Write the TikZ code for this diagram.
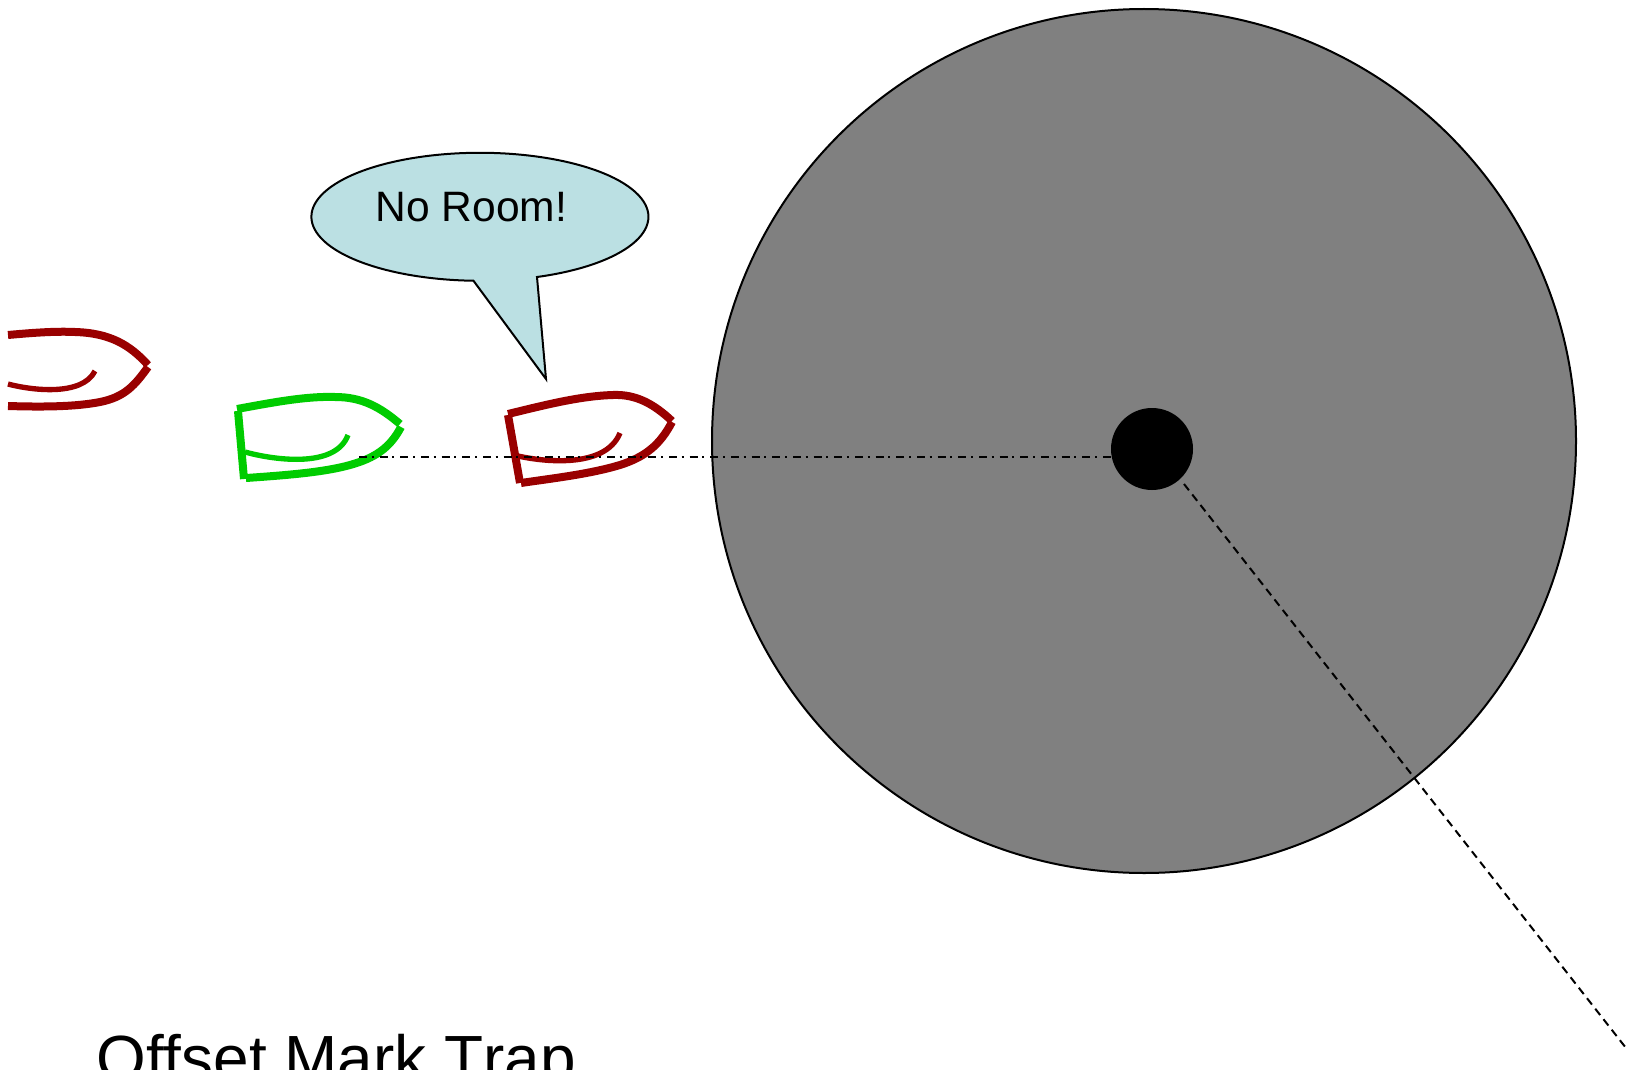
\documentclass[tikz,border=0pt]{standalone}
\usepackage{fontspec}
\setmainfont[Ligatures=NoCommon,Kerning=Off]{Liberation Sans}

\definecolor{boatred}{RGB}{153,0,0}
\definecolor{boatgreen}{RGB}{0,204,0}
\definecolor{speechblue}{RGB}{187,224,227}
\definecolor{zonegray}{RGB}{128,128,128}

\tikzset{every picture/.style={line width=0.75pt}}
\tikzset{
  boathull/.style={line width=6pt},
  boatsail/.style={line width=4pt},
  thinoutline/.style={draw=black,line width=1.5pt},
  laylinedash/.style={line width=1.5pt,dash pattern=on 6pt off 4pt},
  approachdash/.style={line width=1.5pt,dash pattern=on 6pt off 3.5pt on 1.5pt off 4.5pt},
  markdisc/.style={circle,fill=black,inner sep=0pt,minimum size=61.5pt},
  roomtext/.style={anchor=base west,inner sep=0pt,font=\fontsize{31.9pt}{36pt}\selectfont},
  titletext/.style={anchor=base west,inner sep=0pt,font=\fontsize{47.9pt}{56pt}\selectfont}
}

\begin{document}
\begin{tikzpicture}[x=0.75pt,y=0.75pt,yscale=-1,xscale=1]
\useasboundingbox (0,0) rectangle (1627,1070);

%Shape: Circle [zone]
\draw [thinoutline,fill=zonegray] (1144,441) circle [radius=432];
%Shape: Circle [mark]
\node (mark) [markdisc] at (1152,449) {};

%Shape: Callout [speech]
\draw [thinoutline,fill=speechblue,line join=miter] (537,277) arc [start angle=70.2,end angle=-267.8,x radius=168.5,y radius=64] -- (546,379) -- cycle;

%Shape: Boat [rear red]
\begin{scope}[boatred]
\draw [boathull] (8,335) .. controls (30,333) and (55,331) .. (75,332) .. controls (110,333) and (130,345) .. (148,365) ;
\draw [boathull] (8,406) .. controls (40,407) and (75,407) .. (100,402) .. controls (125,397) and (135,385) .. (148,367) ;
\draw [boatsail] (8,384) .. controls (30,390) and (82,397) .. (95,371) ;
\end{scope}

%Shape: Boat [green]
\begin{scope}[boatgreen]
\draw [boathull] (237,409) .. controls (270,403) and (305,396) .. (335,397) .. controls (362,397) and (380,407) .. (400,424) ;
\draw [boathull] (246,478) .. controls (290,475) and (325,472) .. (350,465) .. controls (375,458) and (390,448) .. (401,427) ;
\draw [boathull] (238,411) -- (244,479) ;
\draw [boatsail] (245,452) .. controls (270,459) and (335,470) .. (348,435) ;
\end{scope}

%Shape: Boat [front red]
\begin{scope}[boatred]
\draw [boathull] (508,414) .. controls (545,405) and (580,396) .. (613,395) .. controls (637,394) and (655,405) .. (672,421) ;
\draw [boathull] (521,483) .. controls (555,478) and (590,474) .. (620,465) .. controls (645,457) and (660,445) .. (672,422) ;
\draw [boathull] (508,415) -- (520,483) ;
\draw [boatsail] (518,456) .. controls (540,461) and (605,470) .. (620,433) ;
\end{scope}

%Straight Lines [approach]
\coordinate (approachstart) at (359,457);
\draw [approachdash] (approachstart) -- (approachstart -| mark.west) ;
%Straight Lines [layline]
\coordinate (laylinestart) at (1184,484);
\coordinate (laylineend) at (1626,1048);
\draw [laylinedash] (laylinestart) -- (laylineend) ;

% Text Node
\node (noroom) [roomtext] at (375,221) {No Room!};
% Text Node
\node (title) [titletext] at (96,1080) {Offset Mark Trap};

\end{tikzpicture}
\end{document}
